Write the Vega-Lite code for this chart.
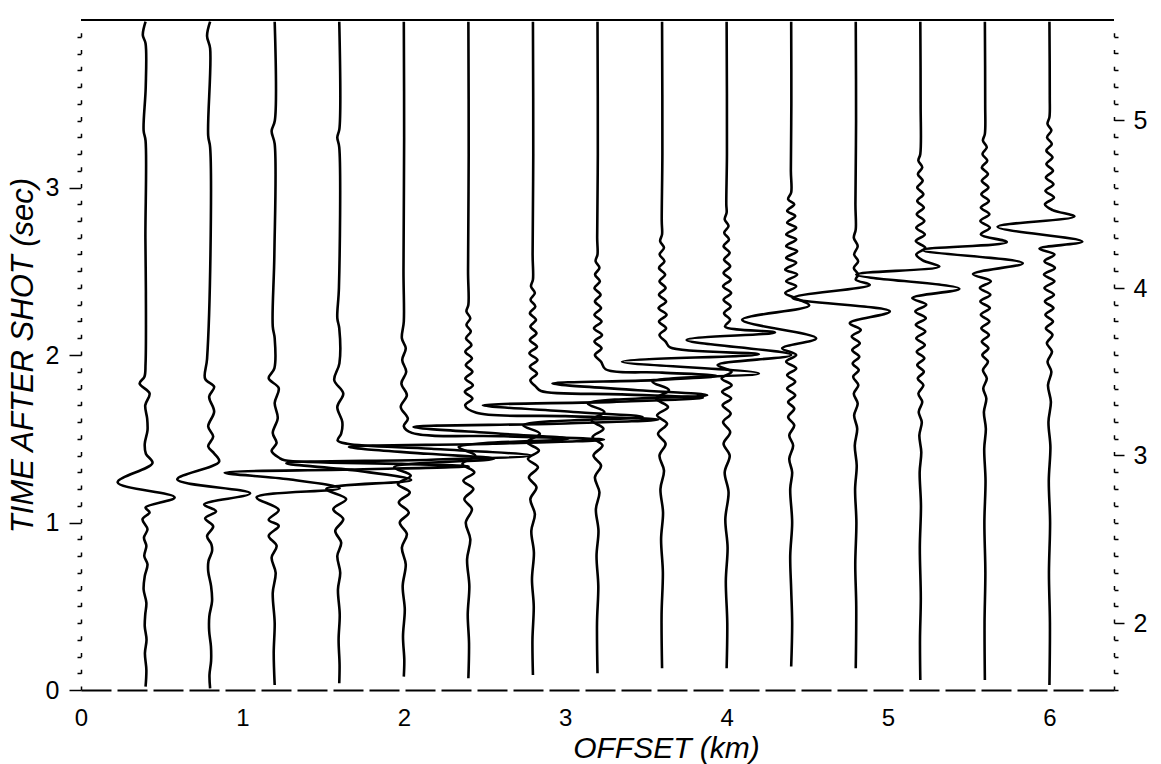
{
"$schema": "https://vega.github.io/schema/vega-lite/v6.json",
"width": 1033, "height": 670,
"autosize": {"type": "none"},
"padding": {"left": 81, "top": 20, "right": 47, "bottom": 74},
"config": {"view": {"stroke": null}, "font": "Liberation Sans"},
"layer": [
{
"data": {"values": [
{"k":1,"t":3.99,"x":0.4},{"k":1,"t":3.91,"x":0.383},{"k":1,"t":3.86,"x":0.4},{"k":1,"t":3.6,"x":0.401},{"k":1,"t":3.34,"x":0.388},{"k":1,"t":3.28,"x":0.4},{"k":1,"t":2.7,"x":0.399},{"k":1,"t":2.38,"x":0.402},{"k":1,"t":1.95,"x":0.4},{"k":1,"t":1.87,"x":0.393},{"k":1,"t":1.83,"x":0.363},{"k":1,"t":1.77,"x":0.425},{"k":1,"t":1.7,"x":0.398},{"k":1,"t":1.62,"x":0.41},{"k":1,"t":1.55,"x":0.412},{"k":1,"t":1.47,"x":0.395},{"k":1,"t":1.41,"x":0.402},{"k":1,"t":1.355,"x":0.443},{"k":1,"t":1.24,"x":0.227},{"k":1,"t":1.15,"x":0.58},{"k":1,"t":1.09,"x":0.4},{"k":1,"t":1.06,"x":0.425},{"k":1,"t":1.02,"x":0.381},{"k":1,"t":0.96,"x":0.412},{"k":1,"t":0.91,"x":0.39},{"k":1,"t":0.86,"x":0.405},{"k":1,"t":0.8,"x":0.392},{"k":1,"t":0.75,"x":0.412},{"k":1,"t":0.68,"x":0.395},{"k":1,"t":0.6,"x":0.388},{"k":1,"t":0.52,"x":0.405},{"k":1,"t":0.45,"x":0.398},{"k":1,"t":0.38,"x":0.395},{"k":1,"t":0.3,"x":0.406},{"k":1,"t":0.22,"x":0.396},{"k":1,"t":0.12,"x":0.405},{"k":1,"t":0.02,"x":0.4},
{"k":2,"t":3.99,"x":0.8},{"k":2,"t":3.905,"x":0.781},{"k":2,"t":3.83,"x":0.8},{"k":2,"t":3.31,"x":0.788},{"k":2,"t":3.24,"x":0.8},{"k":2,"t":2.6,"x":0.802},{"k":2,"t":1.976,"x":0.781},{"k":2,"t":1.858,"x":0.769},{"k":2,"t":1.81,"x":0.825},{"k":2,"t":1.751,"x":0.794},{"k":2,"t":1.662,"x":0.825},{"k":2,"t":1.573,"x":0.788},{"k":2,"t":1.513,"x":0.819},{"k":2,"t":1.454,"x":0.788},{"k":2,"t":1.412,"x":0.825},{"k":2,"t":1.364,"x":0.856},{"k":2,"t":1.257,"x":0.596},{"k":2,"t":1.174,"x":1.048},{"k":2,"t":1.108,"x":0.763},{"k":2,"t":1.067,"x":0.837},{"k":2,"t":1.025,"x":0.769},{"k":2,"t":0.977,"x":0.819},{"k":2,"t":0.918,"x":0.781},{"k":2,"t":0.87,"x":0.808},{"k":2,"t":0.829,"x":0.812},{"k":2,"t":0.77,"x":0.79},{"k":2,"t":0.71,"x":0.788},{"k":2,"t":0.62,"x":0.806},{"k":2,"t":0.531,"x":0.812},{"k":2,"t":0.44,"x":0.795},{"k":2,"t":0.352,"x":0.794},{"k":2,"t":0.26,"x":0.805},{"k":2,"t":0.174,"x":0.806},{"k":2,"t":0.09,"x":0.796},{"k":2,"t":0.01,"x":0.8},
{"k":3,"t":3.99,"x":1.2},{"k":3,"t":3.4,"x":1.201},{"k":3,"t":3.337,"x":1.181},{"k":3,"t":3.26,"x":1.2},{"k":3,"t":2.6,"x":1.198},{"k":3,"t":2.171,"x":1.188},{"k":3,"t":2.1,"x":1.2},{"k":3,"t":1.92,"x":1.198},{"k":3,"t":1.861,"x":1.163},{"k":3,"t":1.802,"x":1.225},{"k":3,"t":1.713,"x":1.2},{"k":3,"t":1.624,"x":1.219},{"k":3,"t":1.534,"x":1.188},{"k":3,"t":1.475,"x":1.212},{"k":3,"t":1.427,"x":1.181},{"k":3,"t":1.385,"x":1.23},{"k":3,"t":1.372,"x":1.262},{"k":3,"t":1.35,"x":1.987},{"k":3,"t":1.336,"x":2.402},{"k":3,"t":1.316,"x":1.677},{"k":3,"t":1.297,"x":0.89},{"k":3,"t":1.258,"x":1.287},{"k":3,"t":1.204,"x":1.603},{"k":3,"t":1.15,"x":1.088},{"k":3,"t":1.075,"x":1.225},{"k":3,"t":1.016,"x":1.163},{"k":3,"t":0.98,"x":1.225},{"k":3,"t":0.92,"x":1.163},{"k":3,"t":0.86,"x":1.212},{"k":3,"t":0.79,"x":1.181},{"k":3,"t":0.7,"x":1.206},{"k":3,"t":0.58,"x":1.188},{"k":3,"t":0.4,"x":1.2},{"k":3,"t":0.22,"x":1.194},{"k":3,"t":0.03,"x":1.2},
{"k":4,"t":3.99,"x":1.6},{"k":4,"t":3.35,"x":1.601},{"k":4,"t":3.3,"x":1.588},{"k":4,"t":3.24,"x":1.6},{"k":4,"t":2.4,"x":1.598},{"k":4,"t":2.22,"x":1.588},{"k":4,"t":2.16,"x":1.6},{"k":4,"t":1.95,"x":1.601},{"k":4,"t":1.85,"x":1.569},{"k":4,"t":1.77,"x":1.625},{"k":4,"t":1.69,"x":1.588},{"k":4,"t":1.6,"x":1.619},{"k":4,"t":1.53,"x":1.612},{"k":4,"t":1.49,"x":1.59},{"k":4,"t":1.47,"x":1.65},{"k":4,"t":1.44,"x":2.17},{"k":4,"t":1.4,"x":2.79},{"k":4,"t":1.375,"x":2.17},{"k":4,"t":1.354,"x":1.272},{"k":4,"t":1.31,"x":1.7},{"k":4,"t":1.254,"x":2.046},{"k":4,"t":1.2,"x":1.52},{"k":4,"t":1.14,"x":1.643},{"k":4,"t":1.08,"x":1.563},{"k":4,"t":1.02,"x":1.625},{"k":4,"t":0.95,"x":1.575},{"k":4,"t":0.88,"x":1.612},{"k":4,"t":0.8,"x":1.588},{"k":4,"t":0.7,"x":1.606},{"k":4,"t":0.6,"x":1.592},{"k":4,"t":0.45,"x":1.603},{"k":4,"t":0.3,"x":1.596},{"k":4,"t":0.15,"x":1.602},{"k":4,"t":0.04,"x":1.6},
{"k":5,"t":3.99,"x":2.0},{"k":5,"t":3.3,"x":2.002},{"k":5,"t":2.5,"x":1.998},{"k":5,"t":2.2,"x":2.0},{"k":5,"t":2.1,"x":1.988},{"k":5,"t":2.04,"x":2.012},{"k":5,"t":1.97,"x":1.99},{"k":5,"t":1.9,"x":2.015},{"k":5,"t":1.83,"x":1.985},{"k":5,"t":1.76,"x":2.019},{"k":5,"t":1.69,"x":1.981},{"k":5,"t":1.62,"x":2.025},{"k":5,"t":1.575,"x":2.0},{"k":5,"t":1.535,"x":2.05},{"k":5,"t":1.515,"x":2.62},{"k":5,"t":1.495,"x":3.24},{"k":5,"t":1.47,"x":2.55},{"k":5,"t":1.45,"x":1.66},{"k":5,"t":1.41,"x":2.15},{"k":5,"t":1.38,"x":2.56},{"k":5,"t":1.33,"x":1.94},{"k":5,"t":1.28,"x":2.043},{"k":5,"t":1.23,"x":1.963},{"k":5,"t":1.18,"x":2.037},{"k":5,"t":1.12,"x":1.969},{"k":5,"t":1.06,"x":2.031},{"k":5,"t":1.0,"x":1.975},{"k":5,"t":0.93,"x":2.019},{"k":5,"t":0.85,"x":1.988},{"k":5,"t":0.75,"x":2.012},{"k":5,"t":0.62,"x":1.993},{"k":5,"t":0.48,"x":2.006},{"k":5,"t":0.32,"x":1.995},{"k":5,"t":0.18,"x":2.003},{"k":5,"t":0.08,"x":2.0},
{"k":6,"t":3.99,"x":2.4},{"k":6,"t":3.2,"x":2.402},{"k":6,"t":2.5,"x":2.398},{"k":6,"t":2.3,"x":2.4},{"k":6,"t":2.26,"x":2.388},{"k":6,"t":2.22,"x":2.412},{"k":6,"t":2.18,"x":2.388},{"k":6,"t":2.14,"x":2.415},{"k":6,"t":2.1,"x":2.385},{"k":6,"t":2.06,"x":2.419},{"k":6,"t":2.02,"x":2.381},{"k":6,"t":1.98,"x":2.422},{"k":6,"t":1.94,"x":2.384},{"k":6,"t":1.9,"x":2.425},{"k":6,"t":1.86,"x":2.381},{"k":6,"t":1.82,"x":2.428},{"k":6,"t":1.78,"x":2.378},{"k":6,"t":1.74,"x":2.425},{"k":6,"t":1.7,"x":2.38},{"k":6,"t":1.655,"x":2.45},{"k":6,"t":1.635,"x":3.0},{"k":6,"t":1.615,"x":3.577},{"k":6,"t":1.59,"x":2.95},{"k":6,"t":1.57,"x":2.06},{"k":6,"t":1.53,"x":2.6},{"k":6,"t":1.5,"x":3.02},{"k":6,"t":1.45,"x":2.34},{"k":6,"t":1.4,"x":2.443},{"k":6,"t":1.35,"x":2.363},{"k":6,"t":1.3,"x":2.437},{"k":6,"t":1.25,"x":2.369},{"k":6,"t":1.2,"x":2.431},{"k":6,"t":1.14,"x":2.375},{"k":6,"t":1.08,"x":2.422},{"k":6,"t":1.0,"x":2.384},{"k":6,"t":0.9,"x":2.412},{"k":6,"t":0.78,"x":2.392},{"k":6,"t":0.62,"x":2.406},{"k":6,"t":0.45,"x":2.396},{"k":6,"t":0.28,"x":2.404},{"k":6,"t":0.07,"x":2.4},
{"k":7,"t":3.99,"x":2.8},{"k":7,"t":3.2,"x":2.802},{"k":7,"t":2.6,"x":2.798},{"k":7,"t":2.45,"x":2.8},{"k":7,"t":2.41,"x":2.788},{"k":7,"t":2.37,"x":2.812},{"k":7,"t":2.33,"x":2.785},{"k":7,"t":2.29,"x":2.815},{"k":7,"t":2.25,"x":2.781},{"k":7,"t":2.21,"x":2.819},{"k":7,"t":2.17,"x":2.784},{"k":7,"t":2.13,"x":2.822},{"k":7,"t":2.09,"x":2.781},{"k":7,"t":2.05,"x":2.825},{"k":7,"t":2.01,"x":2.778},{"k":7,"t":1.97,"x":2.828},{"k":7,"t":1.93,"x":2.781},{"k":7,"t":1.89,"x":2.825},{"k":7,"t":1.85,"x":2.784},{"k":7,"t":1.81,"x":2.819},{"k":7,"t":1.785,"x":2.85},{"k":7,"t":1.765,"x":3.35},{"k":7,"t":1.745,"x":3.853},{"k":7,"t":1.72,"x":3.3},{"k":7,"t":1.7,"x":2.49},{"k":7,"t":1.66,"x":3.05},{"k":7,"t":1.63,"x":3.48},{"k":7,"t":1.58,"x":2.74},{"k":7,"t":1.53,"x":2.843},{"k":7,"t":1.48,"x":2.763},{"k":7,"t":1.43,"x":2.837},{"k":7,"t":1.38,"x":2.769},{"k":7,"t":1.33,"x":2.831},{"k":7,"t":1.27,"x":2.775},{"k":7,"t":1.21,"x":2.822},{"k":7,"t":1.14,"x":2.784},{"k":7,"t":1.05,"x":2.812},{"k":7,"t":0.95,"x":2.79},{"k":7,"t":0.82,"x":2.806},{"k":7,"t":0.66,"x":2.794},{"k":7,"t":0.5,"x":2.805},{"k":7,"t":0.3,"x":2.797},{"k":7,"t":0.09,"x":2.8},
{"k":8,"t":3.99,"x":3.2},{"k":8,"t":3.2,"x":3.202},{"k":8,"t":2.7,"x":3.198},{"k":8,"t":2.6,"x":3.2},{"k":8,"t":2.56,"x":3.188},{"k":8,"t":2.52,"x":3.212},{"k":8,"t":2.48,"x":3.185},{"k":8,"t":2.44,"x":3.215},{"k":8,"t":2.4,"x":3.181},{"k":8,"t":2.36,"x":3.219},{"k":8,"t":2.32,"x":3.184},{"k":8,"t":2.28,"x":3.222},{"k":8,"t":2.24,"x":3.181},{"k":8,"t":2.2,"x":3.225},{"k":8,"t":2.16,"x":3.178},{"k":8,"t":2.12,"x":3.228},{"k":8,"t":2.08,"x":3.181},{"k":8,"t":2.04,"x":3.225},{"k":8,"t":2.0,"x":3.184},{"k":8,"t":1.96,"x":3.222},{"k":8,"t":1.915,"x":3.25},{"k":8,"t":1.895,"x":3.6},{"k":8,"t":1.875,"x":3.943},{"k":8,"t":1.85,"x":3.55},{"k":8,"t":1.83,"x":2.921},{"k":8,"t":1.79,"x":3.45},{"k":8,"t":1.76,"x":3.88},{"k":8,"t":1.71,"x":3.14},{"k":8,"t":1.66,"x":3.243},{"k":8,"t":1.61,"x":3.163},{"k":8,"t":1.56,"x":3.237},{"k":8,"t":1.51,"x":3.169},{"k":8,"t":1.46,"x":3.231},{"k":8,"t":1.4,"x":3.175},{"k":8,"t":1.34,"x":3.222},{"k":8,"t":1.27,"x":3.184},{"k":8,"t":1.18,"x":3.212},{"k":8,"t":1.08,"x":3.19},{"k":8,"t":0.95,"x":3.206},{"k":8,"t":0.8,"x":3.194},{"k":8,"t":0.62,"x":3.205},{"k":8,"t":0.4,"x":3.197},{"k":8,"t":0.1,"x":3.2},
{"k":9,"t":3.99,"x":3.6},{"k":9,"t":3.2,"x":3.602},{"k":9,"t":2.8,"x":3.598},{"k":9,"t":2.72,"x":3.6},{"k":9,"t":2.68,"x":3.588},{"k":9,"t":2.64,"x":3.612},{"k":9,"t":2.6,"x":3.585},{"k":9,"t":2.56,"x":3.615},{"k":9,"t":2.52,"x":3.581},{"k":9,"t":2.48,"x":3.619},{"k":9,"t":2.44,"x":3.584},{"k":9,"t":2.4,"x":3.622},{"k":9,"t":2.36,"x":3.581},{"k":9,"t":2.32,"x":3.625},{"k":9,"t":2.28,"x":3.578},{"k":9,"t":2.24,"x":3.628},{"k":9,"t":2.2,"x":3.581},{"k":9,"t":2.16,"x":3.625},{"k":9,"t":2.12,"x":3.584},{"k":9,"t":2.08,"x":3.622},{"k":9,"t":2.045,"x":3.65},{"k":9,"t":2.005,"x":4.2},{"k":9,"t":1.96,"x":3.352},{"k":9,"t":1.89,"x":4.2},{"k":9,"t":1.84,"x":3.54},{"k":9,"t":1.79,"x":3.643},{"k":9,"t":1.74,"x":3.563},{"k":9,"t":1.69,"x":3.637},{"k":9,"t":1.64,"x":3.569},{"k":9,"t":1.59,"x":3.631},{"k":9,"t":1.53,"x":3.575},{"k":9,"t":1.47,"x":3.622},{"k":9,"t":1.4,"x":3.584},{"k":9,"t":1.31,"x":3.612},{"k":9,"t":1.2,"x":3.59},{"k":9,"t":1.06,"x":3.606},{"k":9,"t":0.9,"x":3.594},{"k":9,"t":0.7,"x":3.605},{"k":9,"t":0.45,"x":3.597},{"k":9,"t":0.13,"x":3.6},
{"k":10,"t":3.99,"x":4.0},{"k":10,"t":3.2,"x":4.002},{"k":10,"t":2.9,"x":3.998},{"k":10,"t":2.85,"x":4.0},{"k":10,"t":2.81,"x":3.988},{"k":10,"t":2.77,"x":4.012},{"k":10,"t":2.73,"x":3.985},{"k":10,"t":2.69,"x":4.015},{"k":10,"t":2.65,"x":3.981},{"k":10,"t":2.61,"x":4.019},{"k":10,"t":2.57,"x":3.984},{"k":10,"t":2.53,"x":4.022},{"k":10,"t":2.49,"x":3.981},{"k":10,"t":2.45,"x":4.025},{"k":10,"t":2.41,"x":3.978},{"k":10,"t":2.37,"x":4.028},{"k":10,"t":2.33,"x":3.981},{"k":10,"t":2.29,"x":4.025},{"k":10,"t":2.25,"x":3.984},{"k":10,"t":2.21,"x":4.022},{"k":10,"t":2.17,"x":3.99},{"k":10,"t":2.135,"x":4.3},{"k":10,"t":2.09,"x":3.752},{"k":10,"t":2.0,"x":4.4},{"k":10,"t":1.94,"x":3.944},{"k":10,"t":1.9,"x":4.031},{"k":10,"t":1.86,"x":3.969},{"k":10,"t":1.82,"x":4.031},{"k":10,"t":1.78,"x":3.972},{"k":10,"t":1.74,"x":4.028},{"k":10,"t":1.7,"x":3.975},{"k":10,"t":1.65,"x":4.025},{"k":10,"t":1.6,"x":3.978},{"k":10,"t":1.54,"x":4.022},{"k":10,"t":1.47,"x":3.981},{"k":10,"t":1.4,"x":4.019},{"k":10,"t":1.3,"x":3.988},{"k":10,"t":1.18,"x":4.012},{"k":10,"t":1.02,"x":3.992},{"k":10,"t":0.85,"x":4.006},{"k":10,"t":0.65,"x":3.995},{"k":10,"t":0.4,"x":4.004},{"k":10,"t":0.13,"x":4.0},
{"k":11,"t":3.99,"x":4.4},{"k":11,"t":3.5,"x":4.401},{"k":11,"t":3.1,"x":4.398},{"k":11,"t":2.97,"x":4.4},{"k":11,"t":2.93,"x":4.381},{"k":11,"t":2.9,"x":4.419},{"k":11,"t":2.86,"x":4.375},{"k":11,"t":2.83,"x":4.425},{"k":11,"t":2.79,"x":4.375},{"k":11,"t":2.76,"x":4.431},{"k":11,"t":2.72,"x":4.369},{"k":11,"t":2.69,"x":4.431},{"k":11,"t":2.65,"x":4.369},{"k":11,"t":2.62,"x":4.437},{"k":11,"t":2.58,"x":4.369},{"k":11,"t":2.55,"x":4.431},{"k":11,"t":2.51,"x":4.363},{"k":11,"t":2.48,"x":4.437},{"k":11,"t":2.44,"x":4.369},{"k":11,"t":2.41,"x":4.431},{"k":11,"t":2.37,"x":4.363},{"k":11,"t":2.34,"x":4.425},{"k":11,"t":2.296,"x":4.512},{"k":11,"t":2.21,"x":4.096},{"k":11,"t":2.1,"x":4.555},{"k":11,"t":2.04,"x":4.344},{"k":11,"t":2.0,"x":4.431},{"k":11,"t":1.96,"x":4.369},{"k":11,"t":1.92,"x":4.431},{"k":11,"t":1.88,"x":4.375},{"k":11,"t":1.84,"x":4.425},{"k":11,"t":1.8,"x":4.375},{"k":11,"t":1.76,"x":4.425},{"k":11,"t":1.72,"x":4.381},{"k":11,"t":1.68,"x":4.419},{"k":11,"t":1.63,"x":4.381},{"k":11,"t":1.58,"x":4.419},{"k":11,"t":1.52,"x":4.388},{"k":11,"t":1.46,"x":4.412},{"k":11,"t":1.38,"x":4.388},{"k":11,"t":1.3,"x":4.406},{"k":11,"t":1.2,"x":4.394},{"k":11,"t":1.0,"x":4.406},{"k":11,"t":0.8,"x":4.394},{"k":11,"t":0.6,"x":4.4},{"k":11,"t":0.4,"x":4.406},{"k":11,"t":0.14,"x":4.4},
{"k":12,"t":3.99,"x":4.8},{"k":12,"t":3.4,"x":4.802},{"k":12,"t":2.9,"x":4.798},{"k":12,"t":2.75,"x":4.8},{"k":12,"t":2.7,"x":4.788},{"k":12,"t":2.65,"x":4.812},{"k":12,"t":2.6,"x":4.79},{"k":12,"t":2.56,"x":4.815},{"k":12,"t":2.52,"x":4.788},{"k":12,"t":2.48,"x":4.815},{"k":12,"t":2.45,"x":4.8},{"k":12,"t":2.419,"x":4.887},{"k":12,"t":2.34,"x":4.409},{"k":12,"t":2.26,"x":5.011},{"k":12,"t":2.19,"x":4.763},{"k":12,"t":2.15,"x":4.831},{"k":12,"t":2.11,"x":4.775},{"k":12,"t":2.07,"x":4.825},{"k":12,"t":2.03,"x":4.778},{"k":12,"t":1.99,"x":4.822},{"k":12,"t":1.95,"x":4.781},{"k":12,"t":1.91,"x":4.819},{"k":12,"t":1.87,"x":4.784},{"k":12,"t":1.82,"x":4.816},{"k":12,"t":1.77,"x":4.788},{"k":12,"t":1.71,"x":4.812},{"k":12,"t":1.64,"x":4.79},{"k":12,"t":1.56,"x":4.809},{"k":12,"t":1.46,"x":4.794},{"k":12,"t":1.34,"x":4.806},{"k":12,"t":1.2,"x":4.796},{"k":12,"t":1.0,"x":4.804},{"k":12,"t":0.75,"x":4.797},{"k":12,"t":0.5,"x":4.803},{"k":12,"t":0.13,"x":4.8},
{"k":13,"t":3.99,"x":5.2},{"k":13,"t":3.5,"x":5.202},{"k":13,"t":3.2,"x":5.2},{"k":13,"t":3.16,"x":5.188},{"k":13,"t":3.12,"x":5.212},{"k":13,"t":3.08,"x":5.185},{"k":13,"t":3.04,"x":5.215},{"k":13,"t":3.0,"x":5.181},{"k":13,"t":2.96,"x":5.219},{"k":13,"t":2.92,"x":5.181},{"k":13,"t":2.88,"x":5.222},{"k":13,"t":2.84,"x":5.178},{"k":13,"t":2.8,"x":5.225},{"k":13,"t":2.76,"x":5.175},{"k":13,"t":2.72,"x":5.228},{"k":13,"t":2.68,"x":5.172},{"k":13,"t":2.64,"x":5.231},{"k":13,"t":2.6,"x":5.175},{"k":13,"t":2.565,"x":5.215},{"k":13,"t":2.528,"x":5.318},{"k":13,"t":2.48,"x":4.803},{"k":13,"t":2.395,"x":5.442},{"k":13,"t":2.34,"x":5.15},{"k":13,"t":2.3,"x":5.237},{"k":13,"t":2.26,"x":5.169},{"k":13,"t":2.22,"x":5.234},{"k":13,"t":2.18,"x":5.172},{"k":13,"t":2.14,"x":5.231},{"k":13,"t":2.1,"x":5.175},{"k":13,"t":2.06,"x":5.228},{"k":13,"t":2.02,"x":5.178},{"k":13,"t":1.98,"x":5.225},{"k":13,"t":1.94,"x":5.181},{"k":13,"t":1.9,"x":5.222},{"k":13,"t":1.86,"x":5.184},{"k":13,"t":1.82,"x":5.219},{"k":13,"t":1.77,"x":5.188},{"k":13,"t":1.72,"x":5.212},{"k":13,"t":1.66,"x":5.19},{"k":13,"t":1.6,"x":5.209},{"k":13,"t":1.52,"x":5.194},{"k":13,"t":1.42,"x":5.206},{"k":13,"t":1.3,"x":5.196},{"k":13,"t":1.1,"x":5.204},{"k":13,"t":0.85,"x":5.197},{"k":13,"t":0.55,"x":5.203},{"k":13,"t":0.3,"x":5.198},{"k":13,"t":0.06,"x":5.2},
{"k":14,"t":3.99,"x":5.6},{"k":14,"t":3.5,"x":5.602},{"k":14,"t":3.32,"x":5.6},{"k":14,"t":3.28,"x":5.588},{"k":14,"t":3.24,"x":5.612},{"k":14,"t":3.2,"x":5.585},{"k":14,"t":3.16,"x":5.615},{"k":14,"t":3.12,"x":5.581},{"k":14,"t":3.08,"x":5.619},{"k":14,"t":3.04,"x":5.581},{"k":14,"t":3.0,"x":5.622},{"k":14,"t":2.96,"x":5.578},{"k":14,"t":2.92,"x":5.625},{"k":14,"t":2.88,"x":5.575},{"k":14,"t":2.84,"x":5.628},{"k":14,"t":2.8,"x":5.572},{"k":14,"t":2.76,"x":5.631},{"k":14,"t":2.72,"x":5.575},{"k":14,"t":2.674,"x":5.736},{"k":14,"t":2.626,"x":5.216},{"k":14,"t":2.548,"x":5.835},{"k":14,"t":2.483,"x":5.526},{"k":14,"t":2.44,"x":5.637},{"k":14,"t":2.4,"x":5.569},{"k":14,"t":2.36,"x":5.634},{"k":14,"t":2.32,"x":5.572},{"k":14,"t":2.28,"x":5.631},{"k":14,"t":2.24,"x":5.575},{"k":14,"t":2.2,"x":5.628},{"k":14,"t":2.16,"x":5.578},{"k":14,"t":2.12,"x":5.625},{"k":14,"t":2.08,"x":5.581},{"k":14,"t":2.04,"x":5.622},{"k":14,"t":2.0,"x":5.584},{"k":14,"t":1.96,"x":5.619},{"k":14,"t":1.91,"x":5.588},{"k":14,"t":1.86,"x":5.612},{"k":14,"t":1.8,"x":5.59},{"k":14,"t":1.74,"x":5.609},{"k":14,"t":1.66,"x":5.594},{"k":14,"t":1.56,"x":5.606},{"k":14,"t":1.44,"x":5.596},{"k":14,"t":1.25,"x":5.604},{"k":14,"t":1.0,"x":5.597},{"k":14,"t":0.7,"x":5.603},{"k":14,"t":0.4,"x":5.598},{"k":14,"t":0.06,"x":5.6},
{"k":15,"t":3.99,"x":6.0},{"k":15,"t":3.55,"x":6.002},{"k":15,"t":3.42,"x":6.0},{"k":15,"t":3.38,"x":5.988},{"k":15,"t":3.34,"x":6.012},{"k":15,"t":3.3,"x":5.985},{"k":15,"t":3.26,"x":6.015},{"k":15,"t":3.22,"x":5.981},{"k":15,"t":3.18,"x":6.019},{"k":15,"t":3.14,"x":5.981},{"k":15,"t":3.1,"x":6.022},{"k":15,"t":3.06,"x":5.978},{"k":15,"t":3.02,"x":6.025},{"k":15,"t":2.98,"x":5.975},{"k":15,"t":2.94,"x":6.028},{"k":15,"t":2.9,"x":5.972},{"k":15,"t":2.865,"x":6.02},{"k":15,"t":2.827,"x":6.155},{"k":15,"t":2.765,"x":5.678},{"k":15,"t":2.677,"x":6.204},{"k":15,"t":2.635,"x":5.938},{"k":15,"t":2.6,"x":6.031},{"k":15,"t":2.56,"x":5.969},{"k":15,"t":2.52,"x":6.034},{"k":15,"t":2.48,"x":5.966},{"k":15,"t":2.44,"x":6.031},{"k":15,"t":2.4,"x":5.969},{"k":15,"t":2.36,"x":6.028},{"k":15,"t":2.32,"x":5.972},{"k":15,"t":2.28,"x":6.025},{"k":15,"t":2.24,"x":5.975},{"k":15,"t":2.2,"x":6.022},{"k":15,"t":2.16,"x":5.978},{"k":15,"t":2.12,"x":6.019},{"k":15,"t":2.07,"x":5.984},{"k":15,"t":2.02,"x":6.016},{"k":15,"t":1.96,"x":5.988},{"k":15,"t":1.9,"x":6.012},{"k":15,"t":1.82,"x":5.991},{"k":15,"t":1.72,"x":6.009},{"k":15,"t":1.6,"x":5.994},{"k":15,"t":1.45,"x":6.006},{"k":15,"t":1.25,"x":5.996},{"k":15,"t":1.0,"x":6.004},{"k":15,"t":0.7,"x":5.997},{"k":15,"t":0.4,"x":6.003},{"k":15,"t":0.03,"x":6.0}
]},
"mark": {"type": "line", "color": "black", "strokeWidth": 2.6, "interpolate": "catmull-rom"},
"encoding": {
"x": {"field": "x", "type": "quantitative", "scale": {"domain": [0, 6.4], "nice": false, "zero": false},
 "axis": {"values": [0,1,2,3,4,5,6], "format": "d", "labelFontSize": 24, "labelFont": "Liberation Sans", "labelColor": "black", "labelFlush": false, "labelOverlap": false, "ticks": false, "labelPadding": 16, "domainColor": "black", "domainWidth": 2, "domainDash": [30, 6], "grid": false,
 "title": "OFFSET  (km)", "titleFont": "Liberation Sans", "titleFontSize": 30, "titleFontStyle": "italic", "titleFontWeight": "normal", "titleColor": "black", "titleX": 585, "titleY": 67, "titleBaseline": "alphabetic", "titleAlign": "center"}},
"y": {"field": "t", "type": "quantitative", "scale": {"domain": [0, 4], "nice": false, "zero": false},
 "axis": {"values": [0,0.1,0.2,0.3,0.4,0.5,0.6,0.7,0.8,0.9,1,1.1,1.2,1.3,1.4,1.5,1.6,1.7,1.8,1.9,2,2.1,2.2,2.3,2.4,2.5,2.6,2.7,2.8,2.9,3,3.1,3.2,3.3,3.4,3.5,3.6,3.7,3.8,3.9],
 "labelExpr": "abs(datum.value - round(datum.value)) < 0.001 ? format(datum.value, 'd') : ''",
 "labelFontSize": 25, "labelFont": "Liberation Sans", "labelColor": "black", "labelFlush": false, "labelOverlap": false, "labelPadding": 10,
 "tickColor": "black", "tickWidth": 1.5, "tickSize": {"condition": {"test": "abs(datum.value - round(datum.value)) < 0.001", "value": 12}, "value": 4},
 "domainColor": "black", "domainWidth": 1.5, "domainDash": [4, 12.75], "grid": false,
 "title": "TIME  AFTER  SHOT  (sec)", "titleFont": "Liberation Sans", "titleFontSize": 31, "titleFontStyle": "italic", "titleFontWeight": "normal", "titleColor": "black", "titleX": -58, "titleY": 335, "titleAngle": -90, "titleBaseline": "middle", "titleAlign": "center"}},
"detail": {"field": "k", "type": "nominal"},
"order": {"field": "t", "type": "quantitative"}
}
},
{
"data": {"values": [{}]},
"mark": {"type": "rule", "color": "black", "strokeWidth": 2},
"encoding": {"y": {"datum": 4, "type": "quantitative", "scale": {"domain": [0, 4], "nice": false, "zero": false}, "axis": null}}
},
{
"data": {"values": [{}]},
"mark": {"type": "rule", "opacity": 0},
"encoding": {"y": {"datum": 1.6, "type": "quantitative", "scale": {"domain": [1.6, 5.6], "nice": false, "zero": false},
 "axis": {"orient": "right", "values": [1.6,1.7,1.8,1.9,2,2.1,2.2,2.3,2.4,2.5,2.6,2.7,2.8,2.9,3,3.1,3.2,3.3,3.4,3.5,3.6,3.7,3.8,3.9,4,4.1,4.2,4.3,4.4,4.5,4.6,4.7,4.8,4.9,5,5.1,5.2,5.3,5.4,5.5],
 "labelExpr": "abs(datum.value - round(datum.value)) < 0.001 ? format(datum.value, 'd') : ''",
 "labelFontSize": 25, "labelFont": "Liberation Sans", "labelColor": "black", "labelFlush": false, "labelOverlap": false, "labelPadding": 9,
 "tickColor": "black", "tickWidth": 1.5, "tickSize": {"condition": {"test": "abs(datum.value - round(datum.value)) < 0.001", "value": 10}, "value": 4},
 "domainColor": "black", "domainWidth": 1.5, "domainDash": [4, 12.75], "grid": false, "title": null}}}
}
],
"resolve": {"scale": {"y": "independent"}}
}
